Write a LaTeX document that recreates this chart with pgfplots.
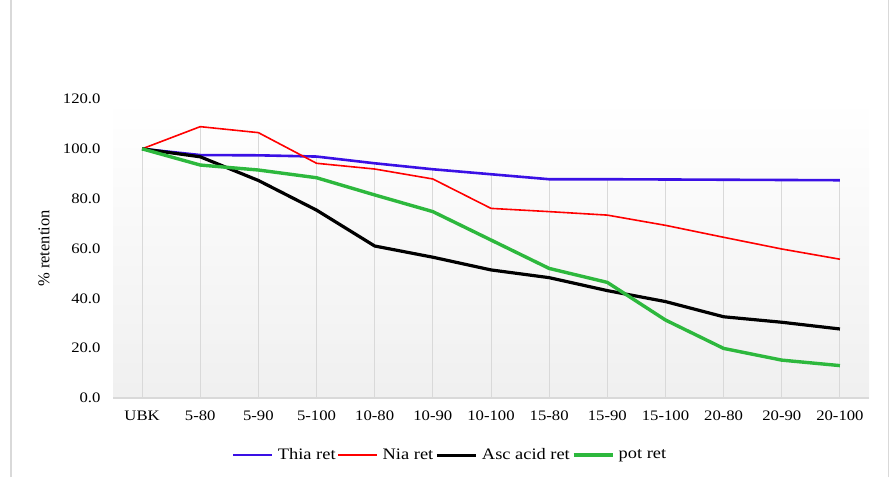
\documentclass[border=0pt]{standalone}
\usepackage{pgfplots}
\pgfplotsset{compat=1.18}
\usepackage{fontspec}
\setmainfont[FakeStretch=1.15]{Liberation Serif}
\newfontfamily\plainserif{Liberation Serif}
\definecolor{thia}{HTML}{3A10E5}
\definecolor{nia}{HTML}{FF0000}
\definecolor{pot}{HTML}{2DB83D}
\definecolor{bord}{HTML}{D9D9D9}
\begin{document}
\begin{tikzpicture}
\path[use as bounding box] (0,0) rectangle (891pt,477pt);
\draw[bord, line width=1.2pt] (11pt,0) -- (11pt,477pt);
\draw[bord, line width=1.2pt] (888.5pt,0) -- (888.5pt,477pt);
\begin{axis}[
  at={(113pt,79pt)}, anchor=south west,
  scale only axis, width=756pt, height=299pt,
  xmin=-0.5, xmax=12.5, ymin=0, ymax=120,
  xtick={0,...,12},
  xticklabels={UBK,5-80,5-90,5-100,10-80,10-90,10-100,15-80,15-90,15-100,20-80,20-90,20-100},
  ytick={0,20,...,120},
  yticklabel style={xshift=-9pt, /pgf/number format/fixed, /pgf/number format/fixed zerofill, /pgf/number format/precision=1, /pgf/number format/assume math mode=true},
  tick label style={font=\fontsize{14.5}{17}\selectfont},
  xticklabel style={yshift=-9pt},
  major tick length=0pt,
  axis line style={draw=none},
  axis background/.style={shade, top color=white, bottom color=black!6, middle color=white!97!black},
  ylabel={\% retention},
  ylabel style={font=\plainserif\fontsize{16.5}{19}\selectfont, at={(rel axis cs:-0.0913,0.5)}, anchor=center},
  legend columns=4,
  legend style={draw=none, fill=none, at={(rel axis cs:0.4458,-0.191)}, anchor=center,
    font=\fontsize{16}{19}\selectfont, /tikz/every even column/.append style={column sep=0pt}},
  legend image code/.code={\draw[#1] (0pt,0pt) -- (39pt,0pt); \path (41.5pt,0pt);},
  clip=false,
]
\addplot[bord, line width=1pt, ycomb, forget plot] coordinates {
(0,100) (1,108.9) (2,106.5) (3,96.9) (4,94.2) (5,91.8) (6,89.8) (7,87.8) (8,87.8) (9,87.7) (10,87.6) (11,87.5) (12,87.4)};
\draw[bord, line width=2pt] (rel axis cs:0,0) -- (rel axis cs:1,0);
\addplot[thia, line width=2.6pt] coordinates {
(0,100) (1,97.5) (2,97.4) (3,96.9) (4,94.2) (5,91.8) (6,89.8) (7,87.8) (8,87.8) (9,87.7) (10,87.6) (11,87.5) (12,87.4)};
\addlegendentry{Thia ret}
\addplot[nia, line width=1.6pt] coordinates {
(0,100) (1,108.9) (2,106.5) (3,94.2) (4,91.9) (5,87.9) (6,76.1) (7,74.8) (8,73.4) (9,69.3) (10,64.5) (11,59.8) (12,55.7)};
\addlegendentry{Nia ret}
\addplot[black, line width=3.2pt] coordinates {
(0,100) (1,96.8) (2,87.3) (3,75.4) (4,61.0) (5,56.5) (6,51.4) (7,48.3) (8,43.1) (9,38.7) (10,32.6) (11,30.4) (12,27.7)};
\addlegendentry{Asc acid ret}
\addplot[pot, line width=3.4pt] coordinates {
(0,100) (1,93.5) (2,91.5) (3,88.4) (4,81.5) (5,74.8) (6,63.4) (7,52.0) (8,46.4) (9,31.3) (10,19.9) (11,15.2) (12,13.0)};
\addlegendentry{pot ret}
\end{axis}
\end{tikzpicture}
\end{document}
